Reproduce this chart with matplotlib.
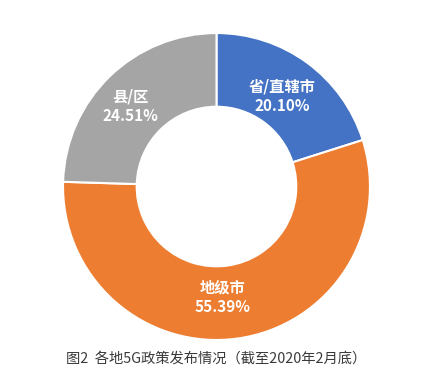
import matplotlib.pyplot as plt

plt.rcParams['font.family'] = ['Noto Sans CJK SC', 'DejaVu Sans']

labels = ['省/直辖市', '地级市', '县/区']
shares = [20.10, 55.39, 24.51]
colors = ['#4472C4', '#ED7D31', '#A5A5A5']
caption = '图2  各地5G政策发布情况（截至2020年2月底）'

fig = plt.figure(figsize=(4.33, 3.92), dpi=100)
ax = fig.add_axes([0.1455, 0.1327, 0.709, 0.783])

wedges, texts = ax.pie(
    shares,
    colors=colors,
    startangle=90,
    counterclock=False,
    radius=1.0,
    wedgeprops=dict(width=0.48, edgecolor='white', linewidth=1.5),
    labels=[f'{l}\n{v:.2f}%' for l, v in zip(labels, shares)],
    labeldistance=0.73,
    textprops=dict(color='white', fontsize=11, fontweight='bold',
                   ha='center', va='center', linespacing=1.3),
)
# small nudges so labels sit like the original (Excel placement)
nudges = [(0.0, 0.0), (-0.06, 0.0), (-0.05, 0.0)]
for t, (dx, dy) in zip(texts, nudges):
    x, y = t.get_position()
    t.set_position((x + dx, y + dy))

ax.set_xlim(-1, 1)
ax.set_ylim(-1, 1)
ax.set_aspect('equal')

fig.text(0.5, 0.084, caption, ha='center', va='center', fontsize=10.3, color='#3a3a3a')

fig.savefig('out.png', dpi=100)
